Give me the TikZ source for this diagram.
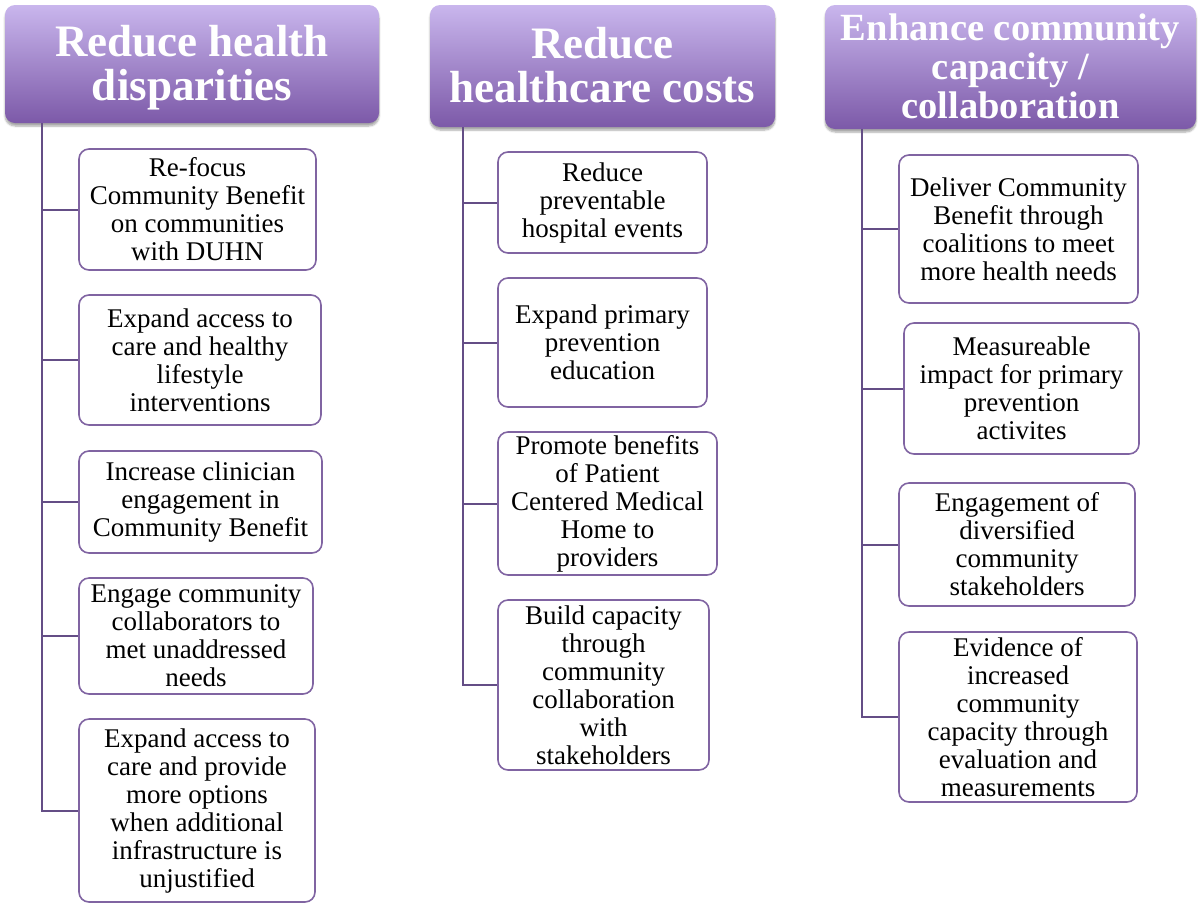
\documentclass[tikz,border=0pt]{standalone}
\usepackage{fontspec}
\setmainfont{Liberation Serif}
\usetikzlibrary{shadows.blur}
\definecolor{bord}{RGB}{128,100,162}
\definecolor{conn}{RGB}{100,78,134}
\definecolor{htop}{RGB}{201,182,237}
\definecolor{hbot}{RGB}{124,89,168}
\begin{document}
\begin{tikzpicture}[x=1pt,y=-1pt,
  head/.style={rounded corners=10pt, top color=htop, bottom color=hbot, draw=none,
    inner sep=0pt,
    blur shadow={shadow xshift=0pt, shadow yshift=-3pt, shadow blur steps=6, shadow opacity=35}},
  htext/.style={text=white, align=center, inner sep=0pt},
  hfont/.style={font=\bfseries\fontsize{45}{44}\selectfont},
  hfontsmall/.style={font=\bfseries\fontsize{38.5}{39}\selectfont},
  item/.style={rounded corners=10pt, draw=bord, line width=1.6pt, fill=white,
    align=center, inner sep=0pt, font=\fontsize{27}{28}\selectfont},
  trunk/.style={draw=conn, line width=2pt}]
\useasboundingbox (0,0) rectangle (1198,903);

% headers
\node[head, minimum width=374pt, minimum height=118pt] (h1) at (192,64) {};
\node[htext, hfont] (h1t) at (192,67.5) {Reduce health\\disparities};
\node[head, minimum width=345pt, minimum height=122pt] (h2) at (602.5,66) {};
\node[htext, hfont] (h2t) at (602.5,65.5) {Reduce\\healthcare costs};
\node[head, minimum width=371pt, minimum height=124pt] (h3) at (1010.5,67) {};
\node[htext, hfontsmall] (h3t) at (1010.5,66.5) {Enhance community\\capacity /\\collaboration};

% column 1
\node[item, minimum width=237pt, minimum height=121pt] (b1) at (197.5,209.5) {Re-focus\\Community Benefit\\on communities\\with DUHN};
\node[item, minimum width=242pt, minimum height=130pt] (b2) at (200,360) {Expand access to\\care and healthy\\lifestyle\\interventions};
\node[item, minimum width=243pt, minimum height=102pt] (b3) at (200.5,502) {Increase clinician\\engagement in\\Community Benefit};
\node[item, minimum width=234pt, minimum height=116pt] (b4) at (196,636) {Engage community\\collaborators to\\met unaddressed\\needs};
\node[item, minimum width=236pt, minimum height=183pt] (b5) at (197,810.5) {Expand access to\\care and provide\\more options\\when additional\\infrastructure is\\unjustified};

% column 2
\node[item, minimum width=209pt, minimum height=101pt] (c1) at (602.5,202.5) {Reduce\\preventable\\hospital events};
\node[item, minimum width=209pt, minimum height=129pt] (c2) at (602.5,342.5) {Expand primary\\prevention\\education};
\node[item, minimum width=219pt, minimum height=143pt] (c3) at (607.5,503.5) {Promote benefits\\of Patient\\Centered Medical\\Home to\\providers};
\node[item, minimum width=211pt, minimum height=170pt] (c4) at (603.5,685) {Build capacity\\through\\community\\collaboration\\with\\stakeholders};

% column 3
\node[item, minimum width=239pt, minimum height=148pt] (d1) at (1018.5,229) {Deliver Community\\Benefit through\\coalitions to meet\\more health needs};
\node[item, minimum width=235pt, minimum height=131pt] (d2) at (1021.5,388.5) {Measureable\\impact for primary\\prevention\\activites};
\node[item, minimum width=236pt, minimum height=123pt] (d3) at (1017,544.5) {Engagement of\\diversified\\community\\stakeholders};
\node[item, minimum width=238pt, minimum height=170pt] (d4) at (1018,717) {Evidence of\\increased\\community\\capacity through\\evaluation and\\measurements};

% trunks
\coordinate (s1) at (42,123);
\coordinate (s2) at (463,127);
\coordinate (s3) at (862,129);
\foreach \n in {b1,b2,b3,b4,b5} \draw[trunk] (s1) |- (\n.west);
\foreach \n in {c1,c2,c3,c4} \draw[trunk] (s2) |- (\n.west);
\foreach \n in {d1,d2,d3,d4} \draw[trunk] (s3) |- (\n.west);
\end{tikzpicture}
\end{document}
